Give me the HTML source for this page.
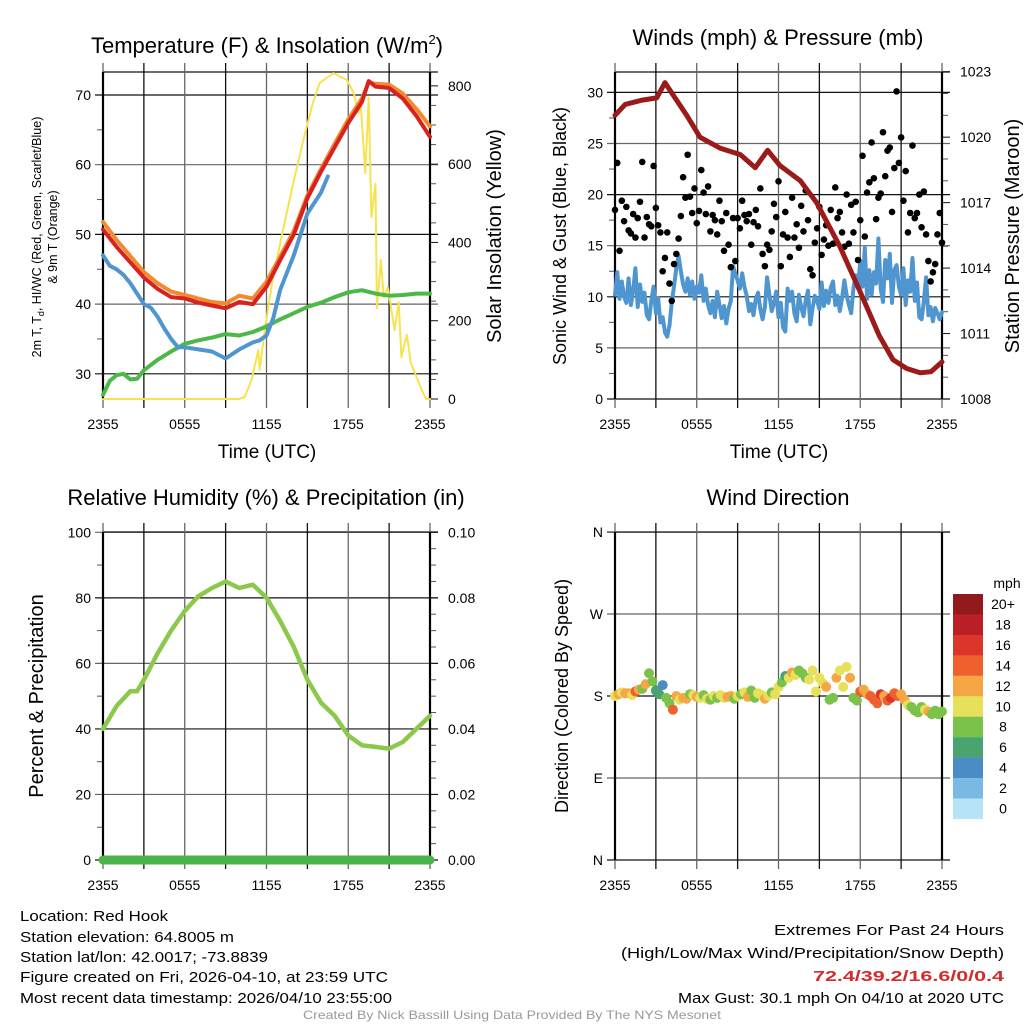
<!DOCTYPE html>
<html><head><meta charset="utf-8"><style>
html,body{margin:0;padding:0;background:#fff;}
svg{display:block;font-family:"Liberation Sans",sans-serif;}
</style></head><body>
<svg id="c" width="1024" height="1024" viewBox="0 0 1024 1024" xmlns="http://www.w3.org/2000/svg">
<g id="g1"></g>
<g id="g2"></g>
<g id="g3"></g>
<g id="g4"></g>
<g font-size="14.5" fill="#000">
<text x="20" y="921" textLength="148" lengthAdjust="spacingAndGlyphs">Location: Red Hook</text>
<text x="20" y="942" textLength="214" lengthAdjust="spacingAndGlyphs">Station elevation: 64.8005 m</text>
<text x="20" y="962" textLength="248" lengthAdjust="spacingAndGlyphs">Station lat/lon: 42.0017; -73.8839</text>
<text x="20" y="982" textLength="368" lengthAdjust="spacingAndGlyphs">Figure created on Fri, 2026-04-10, at 23:59 UTC</text>
<text x="20" y="1003" textLength="372" lengthAdjust="spacingAndGlyphs">Most recent data timestamp: 2026/04/10 23:55:00</text>
</g>
<g font-size="15" fill="#000">
<text x="774" y="935" textLength="230" lengthAdjust="spacingAndGlyphs">Extremes For Past 24 Hours</text>
<text x="621" y="958" textLength="383" lengthAdjust="spacingAndGlyphs">(High/Low/Max Wind/Precipitation/Snow Depth)</text>
<text x="813" y="981" textLength="191" lengthAdjust="spacingAndGlyphs" fill="#d42a2a" font-weight="bold">72.4/39.2/16.6/0/0.4</text>
<text x="678" y="1003" textLength="326" lengthAdjust="spacingAndGlyphs">Max Gust: 30.1 mph On 04/10 at 2020 UTC</text>
</g>
<text x="512" y="1019" font-size="12" fill="#999" text-anchor="middle" textLength="418" lengthAdjust="spacingAndGlyphs">Created By Nick Bassill Using Data Provided By The NYS Mesonet</text>
</svg>
<script>
// ---- Temperature panel data (hours since 2355) ----
const tHours=[0,1,2,3,4,5,6,7,8,9,10,11,12,13,14,15,16,17,18,19,19.5,20,21,22,23,24];
const tRed=[50.7,48.2,46,43.8,42.2,41,40.8,40.2,39.8,39.4,40.3,40,42.5,46.3,50,55.2,59,62.5,66,69,72,71.2,71,69.5,67,64];
const tOrange=[51.8,49.2,46.9,44.6,43,41.8,41.3,40.8,40.3,40.1,41.2,40.8,43.2,46.8,50.5,55.6,59.4,63,66.5,69.5,71.8,71.6,71.5,70.2,68,65.5];
const dpHours=[0,0.5,1,1.5,2,2.5,3,3.5,4,4.5,5,5.5,6,7,8,9,10,11,11.5,12,12.5,13,13.5,14,14.5,15,15.5,16,16.5];
const dpBlue=[47,45.5,45,44.2,43,41.5,40,39.5,38.2,36.5,35,33.8,33.8,33.5,33.2,32.2,33.5,34.5,34.8,35.5,38,42,44.5,47,50,53,54.5,56,58.3];
const gHours=[0,0.5,1,1.5,2,2.5,3,4,5,6,7,8,9,10,11,12,13,14,15,16,17,18,19,20,21,22,23,24];
const tGreen=[27,29,29.8,30,29.2,29.3,30.5,32,33.2,34.3,34.8,35.2,35.7,35.5,36,36.8,37.8,38.7,39.6,40.2,41,41.7,42,41.5,41.2,41.3,41.5,41.5];
const solHours=[0,10,10.4,10.9,11.4,11.5,11.8,12.4,13.1,13.9,14.7,15.4,15.9,16.9,17.9,18.4,18.75,18.9,19.25,19.5,19.7,20,20.1,20.4,20.6,20.9,21.4,21.7,21.9,22.3,22.6,23.4,23.7,24];
const solar=[0,0,5,48,125,74,158,296,414,542,661,756,807,833,815,782,730,760,577,770,465,550,232,355,260,286,176,248,107,164,92,23,0,0];
// ---- Wind panel data (10-min steps) ----
const gusts=[18.5,23.1,14.5,19.4,17.4,18.8,16.5,16.2,18.1,15.8,17.7,19.3,23.2,15.8,17.8,17.1,16.9,22.8,18.7,17,16.3,12.5,13.8,16.3,11.3,9.6,13.2,14.2,15.7,17.9,21.7,19.7,23.9,19.8,18.2,20.6,17.2,18.4,22.4,20.2,18.1,20.8,16.4,18.0,17.5,16.1,19.4,17.4,14.5,18.2,15.1,12.9,17.7,13.5,17.7,16.7,19.4,18.0,17.4,18.1,15.1,17.3,18.5,16.9,20.6,14.2,13.0,15.1,14.6,16.4,19.1,17.8,21.3,13.0,16.1,18.3,15.8,13.9,19.7,15.8,17.1,14.8,18.9,16.4,20.4,17.5,12.7,12.1,15.3,16.7,18.8,14.1,15.6,17.0,15.0,18.5,15.2,20.7,17.7,18.3,16.3,14.9,20.0,15.2,19.0,16.3,19.3,13.6,17.5,23.8,15.9,20.2,21.2,25.1,21.6,17.6,19.7,20.1,26.1,21.8,24.3,24.6,18.3,22.6,30.1,23.1,25.6,19.4,22.3,16.3,18.2,24.8,17.7,18.2,20.0,16.8,20.3,16.1,13.5,11.5,12.4,13.2,16.1,18.2,15.3];
const wind=[10.2,12.4,9.8,11.5,10.0,9.4,11.8,9.2,10.6,12.8,9.0,11.2,9.5,10.4,8.2,7.8,9.6,11.0,8.4,9.9,7.5,8.0,6.5,6.1,7.2,9.5,11.0,12.8,14.0,12.5,11.2,10.5,11.8,10.2,11.5,9.8,11.0,10.4,12.1,9.6,10.8,9.2,8.4,9.6,8.0,10.5,9.2,7.9,9.1,7.4,8.8,9.6,13.0,12.2,11.6,10.8,12.3,11.0,10.1,8.6,9.3,8.2,9.8,10.4,8.8,7.8,9.0,11.9,10.2,8.6,9.4,10.5,8.0,9.4,7.0,6.6,10.8,9.6,10.5,8.4,7.6,10.2,9.0,8.1,9.7,10.6,7.3,8.9,10.1,9.6,8.8,11.4,9.1,10.6,9.4,10.9,11.5,9.2,10.1,8.6,9.9,11.6,10.2,9.2,8.4,10.8,12.1,11.0,13.5,11.0,14.8,9.8,12.6,10.2,12.4,11.3,15.7,10.8,9.5,13.6,11.8,14.2,9.4,12.6,13.1,11.0,10.2,12.8,9.2,11.6,10.5,13.8,9.6,11.4,8.0,7.8,9.5,11.9,8.2,9.0,7.6,8.9,8.4,7.8,8.5];
const pHours=[0,0.75,2,3.06,3.67,4.3,5.26,6.24,7.7,9.2,10.3,11.2,12.1,13.6,14.8,16.5,18,19.4,20.4,21.4,22.4,23.2,24];
const pressure=[1021.0,1021.5,1021.7,1021.8,1022.5,1021.9,1021.0,1020.0,1019.5,1019.2,1018.6,1019.4,1018.7,1018.0,1017.0,1015.0,1012.9,1010.9,1009.8,1009.4,1009.2,1009.25,1009.7];
// ---- Humidity panel data ----
const rhHours=[0,1,2,2.5,3,4,5,6,7,8,9,10,11,12,13,14,15,16,17,18,19,20,21,22,23,24];
const rh=[40,47,51.5,51.5,55,63,70,76,80.5,83,85,83,84,80,73,65,55,48,44,38,35,34.5,34,36,40,44];
const precip=[0,0];
const precipHours=[0,24];
// ---- Wind direction (15-min steps) ----
const dirs=[180,182,184,183,183,181,185,187,188,193,205,196,186,182,192,178,172,165,180,176,178,177,182,181,179,178,181,177,176,180,178,181,178,179,180,177,180,182,184,179,186,178,183,181,177,180,184,182,190,195,202,200,206,203,208,205,200,198,208,185,200,194,190,176,178,200,208,190,212,200,178,175,185,187,182,180,176,172,182,180,175,178,183,180,182,176,170,168,164,162,168,165,163,160,164,160,163];
const speeds=[10,12,11,13,12,11,14,13,9,12,8,9,7,6,5,8,9,15,12,10,12,13,9,11,12,10,9,11,8,10,9,11,10,12,13,9,11,8,10,12,9,8,11,10,12,11,9,10,10,8,7,11,13,10,8,9,8,11,10,10,11,10,12,8,9,13,10,10,11,12,8,8,14,13,12,15,14,15,16,13,15,17,14,15,13,12,10,9,9,8,8,10,12,9,8,8,8];
const cbLabels=["20+","18","16","14","12","10","8","6","4","2","0"];
const cbColors=["#921a1d","#bc1e27","#dc3529","#ee612e","#f6a745","#e6e05a","#7bc24b","#4aa470","#4a8cc4","#7ab9e3","#b7e3f6"];

const NS="http://www.w3.org/2000/svg";
function mk(p,tag,at){const e=document.createElementNS(NS,tag);for(const k in at)e.setAttribute(k,at[k]);p.appendChild(e);return e;}
function txt(p,x,y,s,at){const e=mk(p,'text',Object.assign({x:x,y:y},at));e.textContent=s;return e;}
function pathOf(xs,ys,fx,fy){return xs.map((h,i)=>(i?'L':'M')+fx(h).toFixed(1)+','+fy(ys[i]).toFixed(1)).join('');}

const xA=h=>103+h*13.625, xB=h=>615+h*13.625;
const hrs=[0,3,6,9,12,15,18,21,24];
const hrLabels=["2355","","0555","","1155","","1755","","2355"];

function frame(g,fx,top,bot,yTicks,yTickF,lbl,rTicks,rTickF,rlbl,minorL,minorR,xl){
  const L=fx(0),R=fx(24);
  yTicks.forEach((v,i)=>{const y=yTickF(v);const l=mk(g,'line',{x1:L-8,x2:R+8,y1:y,y2:y,stroke:i%2?'#666':'#111','stroke-width':1.2});
    
    const t=txt(g,L-12,y+5,lbl[i],{'font-size':14,'text-anchor':'end'});});
  mk(g,'line',{x1:L,x2:R+8,y1:top,y2:top,stroke:'#111','stroke-width':1.2});
  hrs.forEach((h,i)=>{const x=fx(h);const l=mk(g,'line',{x1:x,x2:x,y1:top-9,y2:bot+9,stroke:(i%2?'#111':'#666'),'stroke-width':1.3});
    
    if(xl){const t=txt(g,x,bot+30,hrLabels[i],{'font-size':14,'text-anchor':'middle'});}});
  minorL.forEach(v=>mk(g,'line',{x1:L-6,x2:L,y1:yTickF(v),y2:yTickF(v),stroke:'#555'}));
  if(rTicks){rTicks.forEach((v,i)=>{const y=rTickF(v);mk(g,'line',{x1:R,x2:R+8,y1:y,y2:y,stroke:'#111'});
    const t=txt(g,R+18,y+5,rlbl[i],{'font-size':14});});
    minorR.forEach(v=>mk(g,'line',{x1:R,x2:R+6,y1:rTickF(v),y2:rTickF(v),stroke:'#555'}));}
  mk(g,'line',{x1:L,x2:L,y1:top,y2:bot,stroke:'#000','stroke-width':2.2});
  mk(g,'line',{x1:R,x2:R,y1:top,y2:bot,stroke:'#000','stroke-width':2.2});
}
function line(g,d,col,w,name){const p=mk(g,'path',{d:d,fill:'none',stroke:col,'stroke-width':w,'stroke-linejoin':'round','stroke-linecap':'round'});return p;}

// Panel 1
(function(){const g=document.getElementById('g1');
 const yT=T=>95+(70-T)*6.97, yW=W=>399-W*0.3914;
 frame(g,xA,72,399,[30,40,50,60,70],yT,["30","40","50","60","70"],[0,200,400,600,800],yW,["0","200","400","600","800"],[35,45,55,65],[50,100,150,250,300,350,450,500,550,650,700,750],true);
 line(g,pathOf(solHours,solar,xA,yW),'#f9e24f',2,'solar-insolation-line');
 line(g,pathOf(gHours,tGreen,xA,yT),'#4cb848',4,'dewpoint-line');
 line(g,pathOf(dpHours,dpBlue,xA,yT),'#4f95d0',4,'heat-index-windchill-line');
 line(g,pathOf(tHours,tOrange,xA,yT),'#f28a30',4,'temp-9m-line');
 line(g,pathOf(tHours,tRed,xA,yT),'#d7221f',4,'temp-2m-line');
 let t=txt(g,267,53,"Temperature (F) & Insolation (W/m",{'font-size':22,'text-anchor':'middle'});
 const s=mk(t,'tspan',{'font-size':13,dy:-9});s.textContent="2";const s2=mk(t,'tspan',{dy:9});s2.textContent=")";
 t=txt(g,267,458,"Time (UTC)",{'font-size':19,'text-anchor':'middle'});
 t=txt(g,0,0,"2m T, T",{'font-size':12.5,'text-anchor':'middle',transform:'translate(41,237) rotate(-90)'});
 const d1=mk(t,'tspan',{'font-size':9,dy:3});d1.textContent="d";const d2=mk(t,'tspan',{dy:-3});d2.textContent=", HI/WC (Red, Green, Scarlet/Blue)";
 t=txt(g,0,0,"& 9m T (Orange)",{'font-size':12.5,'text-anchor':'middle',transform:'translate(57,237) rotate(-90)'});
 t=txt(g,0,0,"Solar Insolation (Yellow)",{'font-size':20,'text-anchor':'middle',transform:'translate(501,236) rotate(-90)'});
})();
// Panel 2
(function(){const g=document.getElementById('g2');
 const yS=s=>399-s*10.22, yP=p=>399-(p-1008)*21.82;
 frame(g,xB,72,399,[0,5,10,15,20,25,30],yS,["0","5","10","15","20","25","30"],[1008,1011,1014,1017,1020,1023],yP,["1008","1011","1014","1017","1020","1023"],[2.5,7.5,12.5,17.5,22.5,27.5],[1009,1010,1012,1013,1015,1016,1018,1019,1021,1022],true);
 const tw=wind.map((v,i)=>i*24/(wind.length-1));
 line(g,pathOf(tw,wind,xB,yS),'#4f95d0',4,'sonic-wind-line');
 gusts.forEach((v,i)=>{const h=i*24/(gusts.length-1);const c=mk(g,'circle',{cx:xB(h),cy:yS(v),r:3.3,fill:'#000'});
   });
 line(g,pathOf(pHours,pressure,xB,yP),'#9b1a1a',5,'pressure-line');
 let t=txt(g,778,45,"Winds (mph) & Pressure (mb)",{'font-size':22,'text-anchor':'middle'});
 t=txt(g,779,458,"Time (UTC)",{'font-size':19,'text-anchor':'middle'});
 t=txt(g,0,0,"Sonic Wind & Gust (Blue, Black)",{'font-size':18,'text-anchor':'middle',transform:'translate(566,236) rotate(-90)'});
 t=txt(g,0,0,"Station Pressure (Maroon)",{'font-size':20,'text-anchor':'middle',transform:'translate(1019,236) rotate(-90)'});
})();
// Panel 3
(function(){const g=document.getElementById('g3');
 const yR=r=>860-r*3.277, yPr=p=>860-p*3277;
 frame(g,xA,532,860,[0,20,40,60,80,100],yR,["0","20","40","60","80","100"],[0,0.02,0.04,0.06,0.08,0.10],yPr,["0.00","0.02","0.04","0.06","0.08","0.10"],[10,30,50,70,90],[0.01,0.03,0.05,0.07,0.09,0.005,0.015,0.025,0.035,0.045,0.055,0.065,0.075,0.085,0.095],true);
 line(g,pathOf(rhHours,rh,xA,yR),'#8cc84b',4.5,'relative-humidity-line');
 line(g,pathOf(precipHours,precip,xA,yPr),'#4ab34a',9,'precipitation-line');
 let t=txt(g,266,505,"Relative Humidity (%) & Precipitation (in)",{'font-size':22,'text-anchor':'middle'});
 t=txt(g,0,0,"Percent & Precipitation",{'font-size':20,'text-anchor':'middle',transform:'translate(43,696) rotate(-90)'});
})();
// Panel 4
(function(){const g=document.getElementById('g4');
 const yD=d=>860-d*0.911;
 frame(g,xB,532,860,[0,90,180,270,360],yD,["N","E","S","W","N"],null,null,null,[],[],true);
 const col=s=>cbColors[10-Math.max(0,Math.min(10,Math.floor(s/2)))];
 dirs.forEach((d,i)=>{const h=i*24/(dirs.length-1);const c=mk(g,'circle',{cx:xB(h),cy:yD(d),r:5,fill:col(speeds[i])});
   });
 cbColors.forEach((c,i)=>{const r=mk(g,'rect',{x:953,y:594+i*20.45,width:30,height:20.6,fill:c});
   const t=txt(g,1003,609+i*20.45,cbLabels[i],{'font-size':14,'text-anchor':'middle'});});
 let t=txt(g,1007,588,"mph",{'font-size':14,'text-anchor':'middle'});
 t=txt(g,778,505,"Wind Direction",{'font-size':22,'text-anchor':'middle'});
 t=txt(g,0,0,"Direction (Colored By Speed)",{'font-size':18,'text-anchor':'middle',transform:'translate(568,696) rotate(-90)'});
})();
</script>
</body></html>
